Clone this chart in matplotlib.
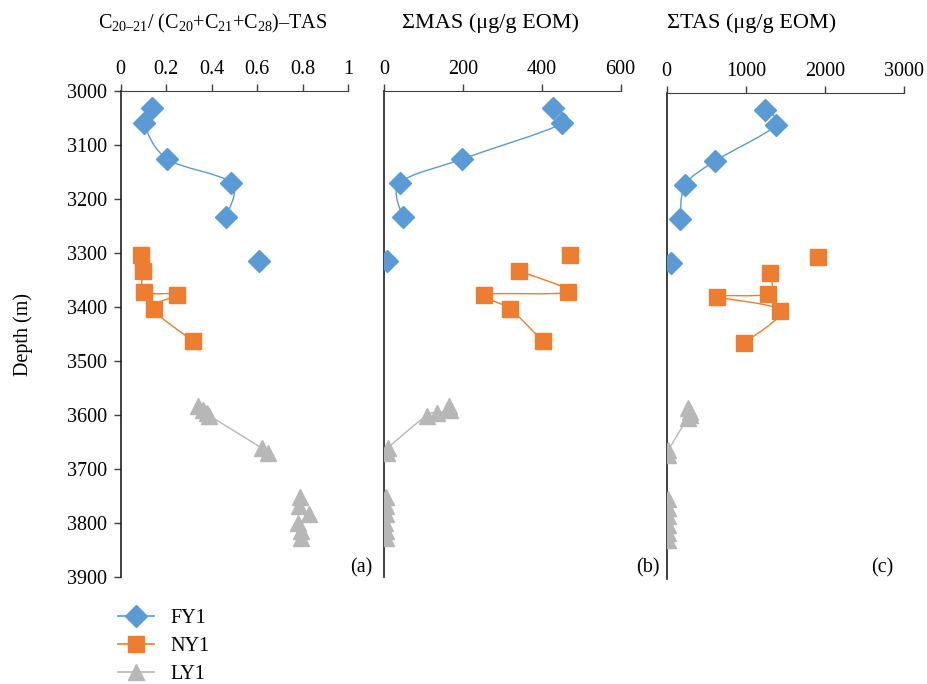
import numpy as np
import matplotlib

matplotlib.use("Agg")
import matplotlib.pyplot as plt
from matplotlib.path import Path
from matplotlib.patches import PathPatch
from matplotlib.lines import Line2D

plt.rcParams["font.family"] = ["Liberation Serif", "DejaVu Serif"]
plt.rcParams["mathtext.fontset"] = "custom"
plt.rcParams["mathtext.rm"] = "Liberation Serif"
plt.rcParams["mathtext.default"] = "regular"

# -------------------------------------------------
# Data: depth (m) and measurements per well
# -------------------------------------------------

fy1_depth = [3032, 3060, 3126, 3170, 3233, 3315]
fy1_ratio = [0.137, 0.104, 0.205, 0.485, 0.463, 0.609]
fy1_mas = [429, 452, 198, 41, 47, 7]
fy1_tas = [1243, 1382, 611, 235, 168, 51]

ny1_depth = [3303, 3333, 3372, 3377, 3403, 3463]
ny1_ratio = [0.091, 0.100, 0.104, 0.249, 0.145, 0.318]
ny1_mas = [471, 342, 466, 253, 319, 402]
ny1_tas = [1917, 1306, 1281, 640, 1432, 977]

ly1_depth = [3584, 3590, 3597, 3601, 3661, 3670, 3752, 3768, 3784, 3800, 3814, 3828]
ly1_ratio = [0.34, 0.36, 0.38, 0.39, 0.62, 0.65, 0.79, 0.785, 0.83, 0.78, 0.795, 0.795]
ly1_mas = [165, 168, 134, 108, 10, 8, 5, 5, 5, 3, 4, 4]
ly1_tas = [275, 300, 290, 270, 22, 15, 20, 15, 20, 12, 15, 15]

# runs of consecutive samples joined by a smoothed line
fy1_runs = [(0, 5)]
ny1_runs = [(1, 6)]
ly1_runs = [(0, 6)]

titles = [
    "C$_{20\u201321}$/ (C$_{20}$+C$_{21}$+C$_{28}$)\u2013TAS",
    "\u03a3MAS (\u03bcg/g EOM)",
    "\u03a3TAS (\u03bcg/g EOM)",
]
panel_tags = ["(a)", "(b)", "(c)"]
x_limits = [(0, 1), (0, 600), (0, 3000)]
x_ticks = [
    [0, 0.2, 0.4, 0.6, 0.8, 1],
    [0, 200, 400, 600],
    [0, 1000, 2000, 3000],
]
x_ticklabels = [
    ["0", "0.2", "0.4", "0.6", "0.8", "1"],
    ["0", "200", "400", "600"],
    ["0", "1000", "2000", "3000"],
]
depth_ticks = list(range(3000, 4000, 100))

BLUE = "#5b9bd5"
ORANGE = "#ed7d31"
GREY = "#b7b7b7"

MARKERS = {"FY1": ("D", 11), "NY1": ("s", 11.5), "LY1": ("^", 12)}


def smooth_path(x, y):
    # Cubic Bezier through the points (Catmull-Rom style tangents)
    pts = np.column_stack([x, y]).astype(float)
    verts = [pts[0]]
    codes = [Path.MOVETO]
    n = len(pts)
    for i in range(n - 1):
        p0 = pts[i - 1] if i > 0 else pts[i]
        p1 = pts[i]
        p2 = pts[i + 1]
        p3 = pts[i + 2] if i + 2 < n else pts[i + 1]
        c1 = p1 + (p2 - p0) / 6.0
        c2 = p2 - (p3 - p1) / 6.0
        verts += [c1, c2, p2]
        codes += [Path.CURVE4] * 3
    return Path(verts, codes)


def draw_series(ax, values, depth, runs, color, marker, size):
    values = np.asarray(values, dtype=float)
    depth = np.asarray(depth, dtype=float)
    for start, stop in runs:
        if stop - start < 2:
            continue
        path = smooth_path(values[start:stop], depth[start:stop])
        ax.add_patch(PathPatch(path, facecolor="none", edgecolor=color,
                               linewidth=1.0, zorder=2))
    ax.plot(values, depth, linestyle="none", marker=marker, markersize=size,
            markerfacecolor=color, markeredgecolor=color, zorder=3)


fig = plt.figure(figsize=(9.27, 6.84), dpi=100)

axes_rects = [
    (0.1302, 0.1564, 0.2452, 0.7105),
    (0.4142, 0.1564, 0.2553, 0.7105),
    (0.7192, 0.1535, 0.2560, 0.7105),
]

series = [
    (fy1_ratio, fy1_mas, fy1_tas),
    (ny1_ratio, ny1_mas, ny1_tas),
    (ly1_ratio, ly1_mas, ly1_tas),
]

# right edge of the (a)/(b)/(c) tags, in pixels
tag_right = [372, 660, 893]

for k, rect in enumerate(axes_rects):
    ax = fig.add_axes(rect)
    draw_series(ax, series[0][k], fy1_depth, fy1_runs, BLUE, *MARKERS["FY1"])
    draw_series(ax, series[1][k], ny1_depth, ny1_runs, ORANGE, *MARKERS["NY1"])
    draw_series(ax, series[2][k], ly1_depth, ly1_runs, GREY, *MARKERS["LY1"])

    ax.set_xlim(*x_limits[k])
    ax.set_ylim(3900, 3000)
    ax.set_xticks(x_ticks[k])
    ax.set_xticklabels(x_ticklabels[k])
    ax.xaxis.tick_top()
    ax.tick_params(axis="x", direction="out", length=5, width=1, pad=4,
                   labelsize=14.5, color="#404040")

    for side in ("right", "bottom"):
        ax.spines[side].set_visible(False)
    ax.spines["top"].set_color("#404040")
    ax.spines["left"].set_color("#202020")
    ax.spines["left"].set_linewidth(1.2)

    if k == 0:
        ax.set_yticks(depth_ticks)
        ax.tick_params(axis="y", direction="out", length=5, width=1, pad=5,
                       labelsize=14.5, color="#404040")
        ax.set_ylabel("Depth (m)", fontsize=14.5, labelpad=24)
    else:
        ax.set_yticks([])

    fig.text(tag_right[k] / 927, 1 - 568 / 684, panel_tags[k],
             ha="right", va="center", fontsize=14.5)

# column titles above each panel
title_x = [213, 491, 752]
title_size = [14.5, 16, 16]
for tx, title, fs in zip(title_x, titles, title_size):
    fig.text(tx / 927, 1 - 23 / 684, title, ha="center", va="center",
             fontsize=fs)

handles = []
for color, key in zip((BLUE, ORANGE, GREY), ("FY1", "NY1", "LY1")):
    marker, size = MARKERS[key]
    handles.append(Line2D([], [], color=color, marker=marker, markersize=size,
                          linewidth=1.2, markerfacecolor=color,
                          markeredgecolor=color))

fig.legend(handles, ["FY1", "NY1", "LY1"], loc="upper left",
           bbox_to_anchor=(118 / 927, 1 - 609 / 684), frameon=False,
           fontsize=14.5, handlelength=1.8, handletextpad=0.8,
           labelspacing=0.45, borderpad=0, borderaxespad=0)

fig.savefig("out.png", dpi=100)
